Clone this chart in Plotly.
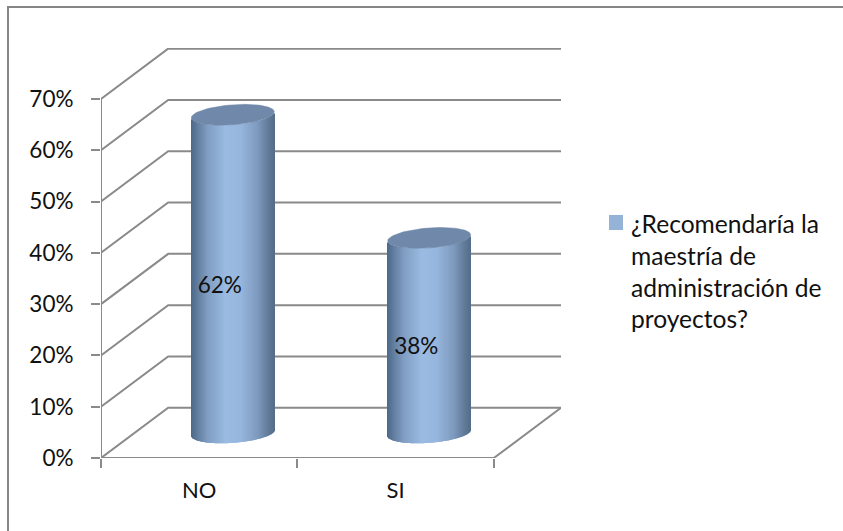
import numpy as np
import plotly.graph_objects as go

# Survey results
categories = ["NO", "SI"]
values = [62, 38]
series_name = "¿Recomendaría la maestría de administración de proyectos?"
legend_lines = ["¿Recomendaría la", "maestría de", "administración de", "proyectos?"]
y_ticks = [0, 10, 20, 30, 40, 50, 60, 70]

# Oblique projection of the box, in axis units
DEPTH_X = 0.342
DEPTH_Y = 9.8
X_MIN, X_MAX = -0.5, 1.5
RADIUS = 0.2115
CAP_B = 1.95      # vertical semi-axis of the cylinder ends
CAP_SHEAR = 0.58  # rise of the ends across the radius

GRID = "#8a8a8a"
TEXT = "#111111"
FONT = "Lato"
LEFT, RIGHT, TOP, BOTTOM = 101, 561, 48, 458

# Horizontal shading of a cylinder wall
shade_t = [0.0, 0.06, 0.2, 0.42, 0.6, 0.8, 0.93, 1.0]
shade_rgb = [(76, 103, 135), (92, 120, 153), (128, 157, 194), (155, 187, 226),
             (150, 182, 221), (126, 154, 190), (97, 123, 153), (84, 109, 138)]


def shade(t):
    r, g, b = (np.interp(t, shade_t, [c[i] for c in shade_rgb]) for i in range(3))
    return f"rgb({r:.0f},{g:.0f},{b:.0f})"


fig = go.Figure()

# Wall and floor gridlines: front edge, side wall, back wall
for v in y_ticks:
    fig.add_trace(go.Scatter(
        x=[X_MIN, X_MIN + DEPTH_X, X_MAX + DEPTH_X],
        y=[v, v + DEPTH_Y, v + DEPTH_Y],
        mode="lines", line=dict(color=GRID, width=2),
        showlegend=False, hoverinfo="skip", zorder=0))

# Value axis line and the front and right edges of the floor
fig.add_trace(go.Scatter(
    x=[X_MIN, X_MIN], y=[y_ticks[0], y_ticks[-1]],
    mode="lines", line=dict(color=GRID, width=2),
    showlegend=False, hoverinfo="skip", zorder=0))
fig.add_trace(go.Scatter(
    x=[X_MIN, X_MAX, X_MAX + DEPTH_X], y=[0, 0, DEPTH_Y],
    mode="lines", line=dict(color=GRID, width=2),
    showlegend=False, hoverinfo="skip", zorder=0))

# Cylinders: the wall is a run of thin shaded bars, the cap a filled ellipse
for i, (cat, val) in enumerate(zip(categories, values)):
    cx = i + DEPTH_X / 2
    cy = DEPTH_Y / 2
    n = 83
    u = (np.arange(n) + 0.5) / n * 2 - 1
    lower = -CAP_B * np.sqrt(1 - u ** 2) + CAP_SHEAR * u
    fig.add_trace(go.Bar(
        x=cx + u * RADIUS,
        y=[val] * n,
        base=cy + lower,
        width=2 * RADIUS / n * 1.25,
        marker=dict(color=[shade((a + 1) / 2) for a in u], line=dict(width=0)),
        name=cat, showlegend=False, hoverinfo="skip", zorder=1))
    theta = np.linspace(0, 2 * np.pi, 90)
    fig.add_trace(go.Scatter(
        x=cx + RADIUS * np.cos(theta),
        y=cy + val + CAP_B * np.sin(theta) + CAP_SHEAR * np.cos(theta),
        mode="lines", fill="toself", fillcolor="#7088a9",
        line=dict(color="#7088a9", width=0.5),
        showlegend=False, hoverinfo="skip", zorder=2))

# Value labels inside the cylinders
fig.add_trace(go.Scatter(
    x=[i + 0.105 for i in range(len(values))],
    y=[v / 2 + 2.3 for v in values],
    mode="text", text=[f"{v}%" for v in values],
    textposition="middle center",
    textfont=dict(family=FONT, size=22.5, color=TEXT),
    name=series_name, showlegend=False, hoverinfo="skip", zorder=3))


def px_x(p):
    return (p - LEFT) / (RIGHT - LEFT)


def px_y(p):
    return (BOTTOM - p) / (BOTTOM - TOP)


# Legend: swatch and wrapped series name
annotations = [
    dict(text=line, x=px_x(628.5), y=px_y(223 + 32 * k),
         xref="paper", yref="paper", xanchor="left", yanchor="middle",
         showarrow=False, font=dict(family=FONT, size=24.6, color=TEXT))
    for k, line in enumerate(legend_lines)
]

shapes = [
    dict(type="rect", xref="paper", yref="paper",
         x0=px_x(609), x1=px_x(623), y0=px_y(215), y1=px_y(230),
         fillcolor="#95b3d7", line=dict(width=0)),
    dict(type="line", xref="paper", yref="paper",
         x0=px_x(7), x1=px_x(843), y0=px_y(7), y1=px_y(7),
         line=dict(color="#868686", width=2)),
    dict(type="line", xref="paper", yref="paper",
         x0=px_x(8), x1=px_x(8), y0=px_y(6), y1=px_y(531),
         line=dict(color="#868686", width=2)),
]

fig.update_layout(
    width=843, height=531,
    margin=dict(l=LEFT, r=843 - RIGHT, t=TOP, b=531 - BOTTOM, pad=0),
    paper_bgcolor="white", plot_bgcolor="white",
    barmode="overlay", showlegend=False,
    annotations=annotations, shapes=shapes,
    xaxis=dict(
        range=[X_MIN, X_MAX + DEPTH_X], showgrid=False, zeroline=False,
        showline=False, tickmode="array", tickvals=[0, 1], ticktext=categories,
        ticks="", ticklabelstandoff=17,
        tickfont=dict(family=FONT, size=22, color=TEXT),
        minor=dict(tickmode="array", tickvals=[-0.5, 0.5, 1.5], ticks="outside",
                   ticklen=9, tickwidth=2, tickcolor=GRID, showgrid=False),
    ),
    yaxis=dict(
        range=[0, (BOTTOM - TOP) / 5.13], showgrid=False, zeroline=False,
        showline=False, tickmode="array", tickvals=y_ticks,
        ticktext=[f"{v}%" for v in y_ticks],
        ticks="outside", ticklen=9, tickwidth=2, tickcolor=GRID,
        ticklabelstandoff=13,
        tickfont=dict(family=FONT, size=22.5, color=TEXT),
    ),
)

fig.write_html("out.html")
